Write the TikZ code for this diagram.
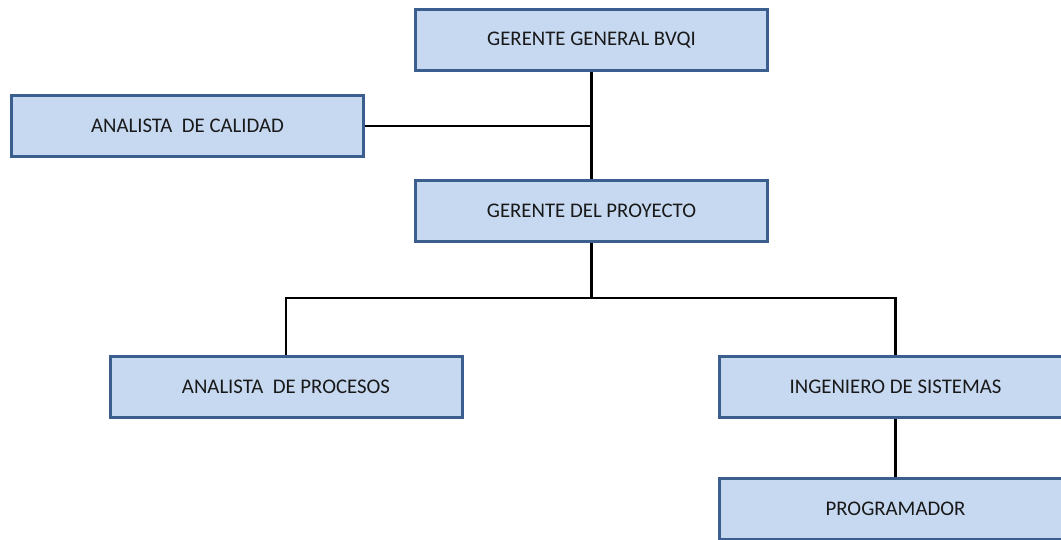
\documentclass[tikz,border=0pt]{standalone}
\usepackage{fontspec}
\setmainfont{Carlito}
\definecolor{boxfill}{HTML}{C6D9F1}
\definecolor{boxline}{HTML}{3A5F8F}
\begin{document}
\begin{tikzpicture}[x=1pt,y=1pt,
  role/.style={draw=boxline, line width=3pt, fill=boxfill,
    minimum width=352pt, minimum height=61pt, inner sep=0pt,
    font=\fontsize{20.8}{24}\selectfont, text=black!90},
  link/.style={draw=black, line width=2.4pt}]
\useasboundingbox (0,0) rectangle (1061,-539);
\begin{scope}
\clip (0,0) rectangle (1061,-539);
\node[role] (gg)   at (591.5,-40)  {GERENTE GENERAL BVQI};
\node[role] (cal)  at (187.5,-125.5) {ANALISTA\ \ DE CALIDAD};
\node[role] (gp)   at (591.5,-211) {GERENTE DEL PROYECTO};
\node[role] (proc) at (286,-387)   {ANALISTA\ \ DE PROCESOS};
\node[role] (ing)  at (895.5,-387) {INGENIERO DE SISTEMAS};
\node[role] (prog) at (895.5,-509) {PROGRAMADOR};
\coordinate (j1) at (591.5,-126);
\coordinate (j2) at (591.5,-298);
\draw[link] (gg.south) -- (gp.north);
\draw[link] (cal.east |- j1) -- (j1);
\draw[link] (gp.south) -- (j2);
\draw[link] (proc.north) |- (j2) -| (ing.north);
\draw[link] (ing.south) -- (prog.north);
\end{scope}
\end{tikzpicture}
\end{document}
